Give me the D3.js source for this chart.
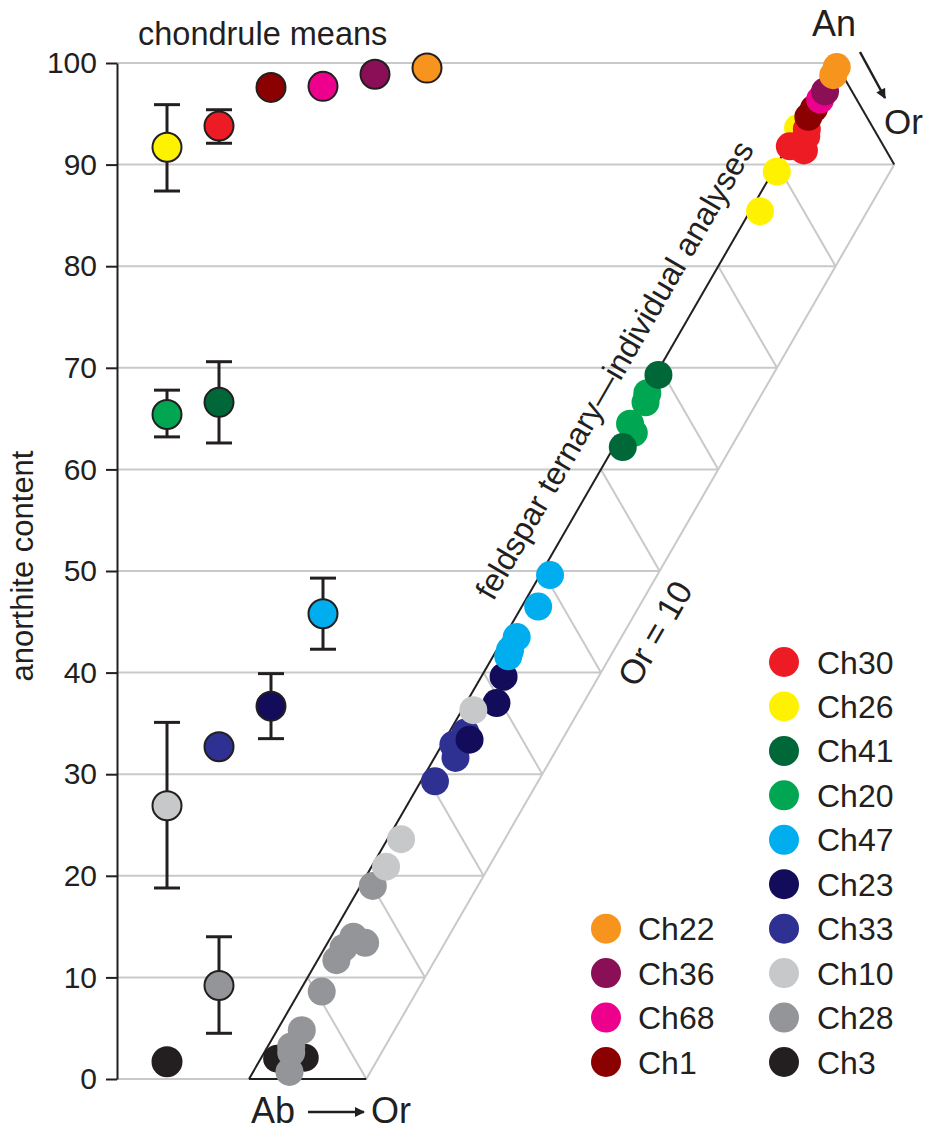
<!DOCTYPE html>
<html><head><meta charset="utf-8">
<script src="https://cdn.jsdelivr.net/npm/d3@7"></script>
<style>
body{margin:0;background:#fff}
svg text{font-family:"Liberation Sans",Arial,Helvetica,sans-serif;fill:#231f20}
</style>
</head><body><svg id="c" width="928" height="1131"></svg>
<script>
// ---------- data ----------
const yTicks = [0,10,20,30,40,50,60,70,80,90,100];
const chNames  = ["Ch30","Ch26","Ch41","Ch20","Ch47","Ch23","Ch33","Ch10","Ch28","Ch3","Ch22","Ch36","Ch68","Ch1"];
const chFills  = ["#ed1c24","#fff200","#006838","#00a651","#00aeef","#120c5a","#2e3192","#c7c8ca","#939598","#231f20","#f7941d","#8a0f56","#ec008c","#8b0000"];
const legendRight = ["Ch30","Ch26","Ch41","Ch20","Ch47","Ch23","Ch33","Ch10","Ch28","Ch3"];
const legendLeft  = ["Ch22","Ch36","Ch68","Ch1"];

// chondrule means (left panel)
const meanNames = ["Ch26","Ch30","Ch1","Ch68","Ch36","Ch22","Ch20","Ch41","Ch47","Ch23","Ch33","Ch10","Ch28","Ch3"];
const meanSlot  = [1,2,3,4,5,6,1,2,4,3,2,1,2,1];
const meanAn    = [91.7,93.8,97.6,97.7,98.9,99.5,65.4,66.6,45.8,36.7,32.7,26.9,9.2,1.7];
const errLo     = [87.4,92.1,null,null,null,null,63.2,62.6,42.3,33.5,null,18.8,4.5,null];
const errHi     = [95.9,95.4,null,null,null,null,67.8,70.6,49.3,39.9,null,35.1,14.0,null];

// individual analyses (feldspar ternary, An and Or in mol%)
const anaName = ["Ch3","Ch3",
  "Ch28","Ch28","Ch28","Ch28","Ch28","Ch28","Ch28","Ch28","Ch28","Ch28",
  "Ch33","Ch33","Ch33","Ch33",
  "Ch23","Ch23","Ch23",
  "Ch10","Ch10","Ch10",
  "Ch47","Ch47","Ch47","Ch47","Ch47",
  "Ch20","Ch20","Ch20","Ch20",
  "Ch41","Ch41",
  "Ch26","Ch26","Ch26",
  "Ch30","Ch30","Ch30","Ch30",
  "Ch1","Ch1","Ch68","Ch36","Ch22","Ch22"];
const anaAn = [2.0,2.1,
  19.0,14.0,13.4,12.9,11.7,8.6,4.8,3.2,2.6,0.7,
  32.9,31.6,34.1,29.3,
  39.6,37.0,33.4,
  36.3,23.6,20.9,
  49.6,46.5,43.5,42.2,41.6,
  67.5,66.6,64.5,63.6,
  69.3,62.2,
  93.6,89.3,85.4,
  91.8,92.8,91.4,93.5,
  95.5,94.7,96.4,97.2,98.8,99.6];
const anaOr = [1.4,3.7,
  1.05,1.9,3.2,1.6,1.6,1.9,2.1,2.0,2.3,3.1,
  0.97,1.8,1.4,1.2,
  1.9,2.6,2.1,
  0.97,1.16,1.23,
  0.86,1.4,1.07,1.15,1.3,
  0.2,0.5,0.23,1.0,
  0.25,0.76,
  0.0,0.34,0.86,
  0.2,1.1,1.6,0.8,
  0.4,0.33,0.48,0.5,0.4,0.3];
const drawOrder = ["Ch3","Ch28","Ch33","Ch23","Ch10","Ch47","Ch20","Ch41","Ch26","Ch30","Ch1","Ch68","Ch36","Ch22"];

// ---------- scales ----------
const fill = d3.scaleOrdinal().domain(chNames).range(chFills);
const y = d3.scaleLinear().domain([0,100]).range([1079,63]);
const xSlot = d3.scaleLinear().domain([1,6]).range([167,427]);
const side = (y(0)-y(100))/Math.sin(Math.PI/3);
const xEdge = d3.scaleLinear().domain([0,100]).range([249, 249+side/2]); // Ab-An edge
const xOr = d3.scaleLinear().domain([0,100]).range([0, side]);           // Or offset
const tern = (an, or) => [xEdge(an)+xOr(or), y(an)];

const svg = d3.select("#c");
const GRID = "#c9c9c9", INK = "#231f20";

// ---------- grid ----------
const grid = svg.append("g").attr("stroke", GRID).attr("stroke-width", 2).attr("fill","none");
grid.selectAll("line.h").data(yTicks).join("line").attr("class","h")
  .attr("x1", 117).attr("y1", d=>y(d))
  .attr("x2", d=>tern(d, Math.min(10, 100-d))[0]).attr("y2", d=>y(d));
grid.selectAll("line.ab").data(yTicks.filter(d=>d>=10 && d<=90)).join("line").attr("class","ab")
  .attr("x1", d=>tern(d,0)[0]).attr("y1", d=>tern(d,0)[1])
  .attr("x2", d=>tern(d-10,10)[0]).attr("y2", d=>tern(d-10,10)[1]);
grid.append("line")
  .attr("x1", tern(0,10)[0]).attr("y1", tern(0,10)[1])
  .attr("x2", tern(90,10)[0]).attr("y2", tern(90,10)[1]);

// black ternary edges
const edges = [[[0,0],[100,0]],[[100,0],[90,10]],[[0,0],[0,10]]];
svg.append("g").attr("stroke", INK).attr("stroke-width", 2)
  .selectAll("line").data(edges).join("line")
  .attr("x1", d=>tern(...d[0])[0]).attr("y1", d=>tern(...d[0])[1])
  .attr("x2", d=>tern(...d[1])[0]).attr("y2", d=>tern(...d[1])[1]);

// ---------- y axis ----------
const ax = svg.append("g").attr("transform","translate(117,0)")
  .call(d3.axisLeft(y).tickValues(yTicks).tickSize(11).tickSizeOuter(0).tickPadding(9));
ax.select(".domain").attr("stroke", INK).attr("stroke-width", 2);
ax.selectAll(".tick line").attr("stroke", INK).attr("stroke-width", 2);
ax.selectAll(".tick text").attr("font-size", 30).attr("font-family", '"Liberation Sans",Arial,sans-serif').attr("fill", INK);

svg.append("text").attr("transform","translate(33,566) rotate(-90)")
  .attr("text-anchor","middle").attr("font-size",31).text("anorthite content");

// ---------- chondrule means ----------
const means = meanNames.map((n,i)=>({n, s:meanSlot[i], v:meanAn[i], lo:errLo[i], hi:errHi[i]}));
const eb = svg.append("g").attr("stroke", INK).attr("stroke-width", 3);
means.filter(d=>d.lo!=null).forEach(d=>{
  const cx = xSlot(d.s);
  eb.append("line").attr("x1",cx).attr("x2",cx).attr("y1",y(d.lo)).attr("y2",y(d.hi));
  eb.append("line").attr("x1",cx-13).attr("x2",cx+13).attr("y1",y(d.lo)).attr("y2",y(d.lo));
  eb.append("line").attr("x1",cx-13).attr("x2",cx+13).attr("y1",y(d.hi)).attr("y2",y(d.hi));
});
svg.append("g").selectAll("circle").data(means).join("circle")
  .attr("cx", d=>xSlot(d.s)).attr("cy", d=>y(d.v)).attr("r", 14.5)
  .attr("fill", d=>fill(d.n)).attr("stroke", INK).attr("stroke-width", 2);

svg.append("text").attr("x",138).attr("y",45).attr("font-size",32.5).text("chondrule means");

// ---------- individual analyses ----------
const ana = anaName.map((n,i)=>({n, an:anaAn[i], or:anaOr[i]}))
  .sort((a,b)=>drawOrder.indexOf(a.n)-drawOrder.indexOf(b.n));
svg.append("g").selectAll("circle").data(ana).join("circle")
  .attr("cx", d=>tern(d.an,d.or)[0]).attr("cy", d=>tern(d.an,d.or)[1])
  .attr("r", 14).attr("fill", d=>fill(d.n));

// rotated labels
const nx = Math.cos(Math.PI/6), ny = Math.sin(Math.PI/6);
{
  const p = tern(67.9,0), d = -27;
  svg.append("text").attr("transform",`translate(${p[0]+d*nx},${p[1]+d*ny}) rotate(-60)`)
    .attr("text-anchor","middle").attr("font-size",32).text("feldspar ternary\u2014individual analyses");
}
{
  const p = tern(45.2,10), d = 39;
  svg.append("text").attr("transform",`translate(${p[0]+d*nx},${p[1]+d*ny}) rotate(-60)`)
    .attr("text-anchor","middle").attr("font-size",34).text("Or = 10");
}

// apex labels and arrows
const defs = svg.append("defs");
defs.append("marker").attr("id","ah").attr("viewBox","0 0 10 10").attr("refX",9).attr("refY",5)
  .attr("markerWidth",13).attr("markerHeight",10).attr("markerUnits","userSpaceOnUse").attr("orient","auto")
  .append("path").attr("d","M0,0 L10,5 L0,10 Z").attr("fill",INK);

svg.append("text").attr("x",834).attr("y",36).attr("text-anchor","middle").attr("font-size",36).text("An");
svg.append("line").attr("x1",860).attr("y1",52).attr("x2",885).attr("y2",98)
  .attr("stroke",INK).attr("stroke-width",2.5).attr("marker-end","url(#ah)");
svg.append("text").attr("x",884).attr("y",134).attr("font-size",35).text("Or");

svg.append("text").attr("x",251).attr("y",1123).attr("font-size",36).text("Ab");
svg.append("line").attr("x1",308).attr("y1",1112).attr("x2",364).attr("y2",1112)
  .attr("stroke",INK).attr("stroke-width",2.5).attr("marker-end","url(#ah)");
svg.append("text").attr("x",371).attr("y",1123).attr("font-size",36).text("Or");

// ---------- legend ----------
const rowY = d3.scaleLinear().domain([0,9]).range([662,1062]);
const lg = svg.append("g");
const rightItems = legendRight.map((n,i)=>({n, x:784, tx:817, cy:rowY(i)}));
const leftItems  = legendLeft.map((n,i)=>({n, x:606, tx:638, cy:rowY(i+6)}));
const items = rightItems.concat(leftItems);
lg.selectAll("circle").data(items).join("circle")
  .attr("cx", d=>d.x).attr("cy", d=>d.cy).attr("r", 15).attr("fill", d=>fill(d.n));
lg.selectAll("text").data(items).join("text")
  .attr("x", d=>d.tx).attr("y", d=>d.cy+11.5).attr("font-size",32).text(d=>d.n);
</script>
</body></html>
